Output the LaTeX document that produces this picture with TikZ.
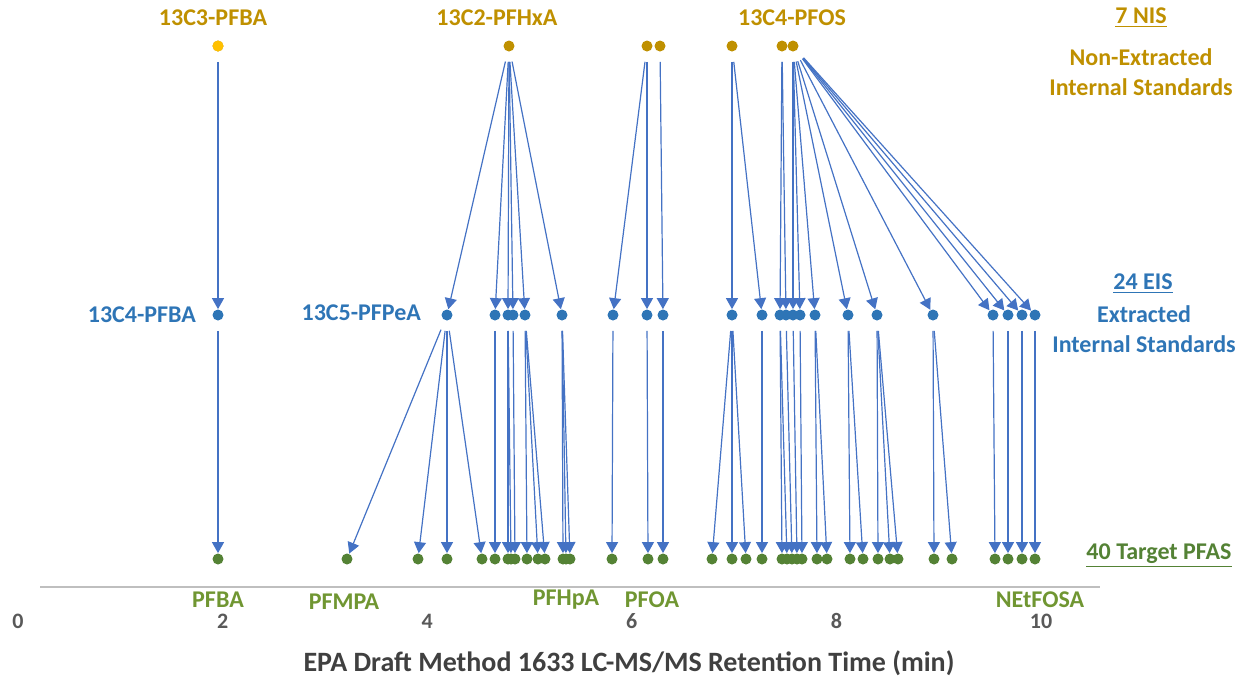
\documentclass[tikz,border=0pt]{standalone}
\usepackage{fontspec}
\setmainfont{Carlito}
\usetikzlibrary{arrows.meta}
\definecolor{nisgold}{RGB}{191,144,0}
\definecolor{nisyellow}{RGB}{255,192,0}
\definecolor{eisblue}{RGB}{46,117,182}
\definecolor{linkblue}{RGB}{68,114,196}
\definecolor{tgtgreen}{RGB}{84,130,53}
\definecolor{tgtlabel}{RGB}{112,150,50}
\definecolor{axisgray}{RGB}{191,191,191}
\definecolor{ticktext}{RGB}{89,89,89}
\definecolor{titletext}{RGB}{64,64,64}

\begin{document}
\begin{tikzpicture}[x=0.5pt, y=-0.5pt,
    font=\fontsize{12}{14}\selectfont\bfseries,
    dot/.style={circle, inner sep=0pt, minimum size=5.5pt},
    nisdot/.style={dot, fill=nisgold},
    eisdot/.style={dot, fill=eisblue},
    tgtdot/.style={dot, fill=tgtgreen},
    link/.style={linkblue, line width=0.6pt, shorten <=5pt,
        -{Triangle[width=6pt,length=5.5pt]}},
    nislabel/.style={text=nisgold, align=center},
    eislabel/.style={text=eisblue, align=center},
    tgtlabel/.style={text=tgtlabel},
    ticklabel/.style={text=ticktext, font=\fontsize{11}{13}\selectfont\bfseries}]
    \useasboundingbox (0,0) rectangle (1249,677);

    % three rows of standards and targets
    \foreach \x [count=\i] in {218,509,647,660,732,782,793}
        \node[nisdot] (n\i) at (\x,46) {};
    \node[dot, fill=nisyellow] at (n1) {};
    \foreach \x [count=\i] in {218,447,495,508,513,525,562,613,647,663,732,762,
        780,786,793,800,815,848,877,933,993,1008,1022,1035}
        \node[eisdot] (e\i) at (\x,315) {};
    \foreach \x [count=\i] in {218,347,418,447,482,495,508,511,515,527,538,545,
        563,566,570,612,648,663,712,732,746,762,782,787,792,797,802,817,827,
        850,863,878,890,898,934,952,995,1008,1022,1035}
        \node[tgtdot] (t\i) at (\x,559) {};

    % NIS -> EIS
    \foreach \a/\b in {1/1,2/2,2/3,2/4,2/5,2/6,2/7,3/8,3/9,4/10,5/11,5/12,
        6/13,6/14,7/15,7/16,7/17,7/18,7/19,7/20,7/21,7/22,7/23,7/24}
        \draw[link] (n\a) -- (e\b);
    % EIS -> targets
    \foreach \a/\b in {1/1,2/2,2/3,2/4,2/5,3/6,4/7,4/8,5/9,6/10,6/11,6/12,
        7/13,7/14,7/15,8/16,9/17,10/18,11/19,11/20,11/21,12/22,13/23,13/24,
        14/25,15/26,16/27,17/28,17/29,18/30,18/31,19/32,19/33,19/34,20/35,
        20/36,21/37,22/38,23/39,24/40}
        \draw[link] (e\a) -- (t\b);

    % labels
    \node[nislabel] (nfbalbl) at (213,18) {13C3-PFBA};
    \node[nislabel] (nfhxlbl) at (497,18) {13C2-PFHxA};
    \node[nislabel] (nfoslbl) at (792,18) {13C4-PFOS};
    \node[nislabel] (nisttl) at (1141,18) {\underline{7 NIS}};
    \node[nislabel] (nissub) at (1141,72) {Non-Extracted\\[1pt]Internal Standards};

    \node[eislabel, anchor=east] (efbalbl) at (203,315) {13C4-PFBA};
    \node[eislabel, anchor=east] (efpelbl) at (428,313) {13C5-PFPeA};
    \node[eislabel] (eisttl) at (1143,284) {\underline{24 EIS}};
    \node[eislabel] (eissub) at (1144,329) {Extracted\\[1pt]Internal Standards};

    \node[text=tgtgreen] (tgtttl) at (1159,556) {\underline{40 Target PFAS}};
    \node[tgtlabel] (pfba) at (218,600) {PFBA};
    \node[tgtlabel] (pfmpa) at (344,602) {PFMPA};
    \node[tgtlabel] (pfhpa) at (566,600) {PFHpA};
    \node[tgtlabel] (pfoa) at (652,600) {PFOA};
    \node[tgtlabel] (netfosa) at (1040,600) {NEtFOSA};

    % time axis
    \draw[axisgray, line width=1pt] (40,587) -- (1100,587);
    \foreach \t in {0,2,...,10}
        \node[ticklabel] (tick\t) at ({18+102.3*\t},621) {\t};
    \node[text=titletext, font=\fontsize{14}{16}\selectfont\bfseries] (axisttl)
        at (629,663) {EPA Draft Method 1633 LC-MS/MS Retention Time (min)};
\end{tikzpicture}
\end{document}
